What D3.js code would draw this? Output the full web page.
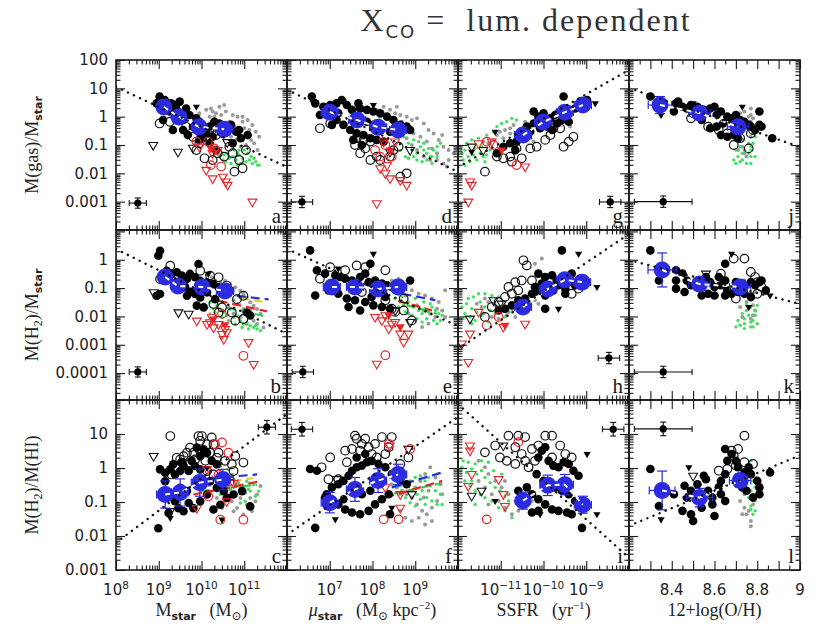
<!DOCTYPE html>
<html><head><meta charset="utf-8">
<script src="https://cdn.jsdelivr.net/npm/d3@7/dist/d3.min.js"></script>
<style>body{margin:0;background:#fff}svg{display:block}</style>
</head><body>
<svg id="chart" width="837" height="631"></svg>
<script>
// ---------------- layout grid: panel ids by row/column ----------------
const panelGrid = [['a','d','g','j'],['b','e','h','k'],['c','f','i','l']];
// axis domains (log10 for log axes; column 3 is linear 12+log(O/H))
const xDomainsLog = [[8,12],[6,10],[-12,-8],null];
const xDomainLin = [8.2,9.0];
const yDomainsLog = [[-4,2],[-4.95,1.05],[-3,2]];
// tick labels
const xTickExps = [[8,9,10,11],[7,8,9],[-11,-10,-9]];
const xTickLin = [8.4,8.6,8.8,9];
const yTickLabels = [["100","10","1","0.1","0.01","0.001"],["1","0.1","0.01","0.001","0.0001"],["10","1","0.1","0.01","0.001"]];

// ---------------- data (log10 units except O/H) ----------------
const blackFilled = {
a:[[9.02,0.71],[9.14,0.59],[9.29,0.47],[9.37,0.41],[9.49,0.53],[9.64,0.29],[9.26,0.18],[9.45,0.0],[9.57,-0.12],[9.72,0.06],[9.88,-0.06],[9.95,-0.18],[9.80,-0.35],[9.95,-0.53],[10.11,-0.59],[10.19,-0.35],[10.30,-0.18],[10.42,-0.24],[10.57,-0.35],[10.69,-0.29],[10.81,-0.53],[10.92,-0.76],[11.08,-0.65],[10.73,-0.94],[10.19,-0.94],[10.34,-1.18],[10.03,-0.76],[9.10,-0.12],[9.33,-0.47],[9.57,-0.47],[9.68,-0.65],[9.95,-0.82],[10.88,-0.47],[9.41,0.29],[8.95,0.47],[10.26,-0.71]],
d:[[6.58,0.71],[6.66,0.47],[6.85,0.35],[7.01,0.41],[7.16,0.47],[7.28,0.59],[7.40,0.41],[7.52,0.24],[7.67,0.47],[7.71,0.29],[7.87,0.24],[8.02,0.18],[8.18,0.12],[8.34,0.0],[8.49,-0.12],[8.65,-0.29],[8.80,-0.35],[8.88,-0.47],[7.16,-0.12],[7.32,-0.29],[7.48,-0.47],[7.63,-0.59],[7.79,-0.65],[7.95,-0.76],[8.10,-0.82],[8.26,-0.88],[7.55,-0.82],[7.75,-1.0],[7.20,0.12],[6.77,0.06],[7.05,-0.29],[8.41,-0.53],[8.57,-0.59],[7.87,-0.18],[8.02,-0.29]],
g:[[-9.53,0.71],[-10.23,0.18],[-10.12,0.0],[-10.0,0.12],[-9.84,-0.06],[-9.73,0.06],[-9.69,-0.24],[-9.57,-0.12],[-9.49,0.0],[-9.38,0.24],[-9.26,0.29],[-9.14,0.35],[-9.06,0.47],[-8.98,0.59],[-10.23,-0.24],[-10.08,-0.41],[-9.92,-0.35],[-9.80,-0.47],[-10.31,-0.53],[-10.43,-0.71],[-10.63,-0.88],[-10.78,-0.94],[-10.94,-1.06],[-10.66,-1.18],[-11.09,-1.29],[-10.39,-0.35],[-9.41,-0.18]],
j:[[8.30,0.71],[8.42,0.47],[8.43,0.53],[8.45,0.35],[8.41,0.18],[8.47,0.29],[8.49,0.41],[8.52,0.35],[8.55,0.24],[8.56,0.18],[8.58,0.29],[8.60,0.35],[8.61,0.06],[8.63,0.18],[8.66,0.0],[8.68,-0.06],[8.70,0.06],[8.72,-0.12],[8.74,-0.18],[8.76,-0.29],[8.77,-0.35],[8.79,-0.47],[8.81,-0.29],[8.82,-0.35],[8.81,0.18],[8.63,-0.65],[8.66,-0.71],[8.69,-0.65],[8.71,-0.76],[8.58,-0.41],[8.61,-0.35],[8.54,-0.12],[8.64,-0.24],[8.87,-0.76]],
b:[[9.03,0.32],[8.99,0.14],[9.93,-0.15],[9.19,-0.39],[9.30,-0.50],[9.42,-0.44],[9.54,-0.56],[9.66,-0.68],[9.73,-0.50],[9.85,-0.62],[9.97,-0.74],[10.13,-0.80],[10.28,-0.86],[10.40,-0.97],[10.52,-1.03],[10.67,-1.09],[9.50,-0.80],[9.62,-0.97],[9.73,-1.09],[9.85,-1.21],[9.97,-1.33],[10.13,-1.15],[9.03,-1.21],[8.95,-1.27],[9.89,-1.62],[10.05,-1.68],[9.66,-1.27],[10.32,-1.39],[11.06,-1.86],[11.14,-1.97]],
e:[[6.54,0.33],[7.95,-0.14],[6.70,-0.37],[6.89,-0.49],[7.13,-0.55],[7.24,-0.61],[7.36,-0.67],[7.52,-0.73],[7.71,-0.61],[7.83,-0.49],[7.91,-0.79],[8.06,-0.73],[8.22,-0.84],[8.34,-0.90],[8.45,-0.96],[8.65,-0.84],[8.88,-0.73],[6.66,-1.26],[6.97,-1.08],[7.20,-1.20],[7.40,-1.37],[7.59,-1.43],[7.83,-1.49],[8.02,-1.61],[8.22,-1.67],[8.41,-1.73],[7.44,-1.67],[7.71,-1.79],[7.98,-1.31],[8.30,-1.31]],
h:[[-9.57,0.33],[-10.12,-0.49],[-9.96,-0.61],[-9.80,-0.55],[-9.69,-0.73],[-9.57,-0.79],[-9.45,-0.61],[-9.34,-0.49],[-10.04,-0.84],[-9.88,-0.96],[-9.77,-1.08],[-9.65,-0.90],[-9.49,-1.02],[-10.12,-1.14],[-9.96,-1.26],[-10.27,-1.20],[-10.43,-1.37],[-10.59,-1.43],[-10.74,-1.61],[-10.90,-1.73],[-11.05,-1.79],[-9.96,-1.73],[-9.49,-1.20],[-9.26,-0.90],[-10.20,-0.96]],
k:[[8.30,0.33],[8.34,-0.73],[8.42,-0.37],[8.45,-0.49],[8.42,-0.73],[8.42,-1.02],[8.46,-1.14],[8.47,-0.73],[8.49,-0.90],[8.56,-0.61],[8.58,-0.79],[8.60,-0.96],[8.63,-0.90],[8.65,-0.73],[8.66,-1.08],[8.68,-1.20],[8.65,-1.26],[8.60,-1.26],[8.57,-1.20],[8.54,-1.26],[8.62,-0.61],[8.70,-0.79],[8.73,-0.84],[8.74,-1.20],[8.77,-0.79],[8.79,-0.90],[8.81,-0.79],[8.82,-0.73],[8.77,-1.31],[8.84,-1.08],[8.65,-0.14],[8.71,-1.14],[8.54,-0.96]],
c:[[9.03,-0.04],[9.15,-0.14],[9.27,-0.04],[9.38,-0.19],[9.50,-0.09],[9.58,0.06],[9.70,-0.09],[9.85,0.06],[9.97,-0.04],[9.89,0.60],[10.05,0.55],[10.13,0.45],[10.24,0.21],[10.36,0.11],[9.97,0.35],[9.77,0.21],[9.54,0.16],[9.34,0.11],[9.15,-0.39],[9.27,-0.78],[9.38,-0.98],[9.46,-1.18],[9.58,-1.27],[9.70,-1.03],[9.81,-1.18],[9.97,-0.98],[10.13,-0.78],[10.28,-1.22],[10.44,-1.08],[10.59,-0.88],[10.75,-0.78],[10.95,-0.68],[11.14,-1.13],[8.99,-1.77],[9.23,-1.32],[9.50,-0.58],[9.66,-0.68],[10.20,-0.39],[10.36,-0.58],[10.52,-0.68]],
f:[[6.54,-0.03],[6.70,-0.08],[6.93,-0.77],[7.05,-0.57],[7.20,-0.48],[7.32,-0.38],[7.44,-0.23],[7.52,-0.08],[7.63,0.02],[7.75,0.07],[7.87,0.17],[7.98,0.21],[8.14,0.12],[8.30,0.02],[8.45,-0.18],[8.65,-0.38],[8.80,-0.48],[7.20,-1.07],[7.36,-1.22],[7.52,-1.31],[7.71,-1.36],[7.91,-1.26],[8.06,-1.07],[8.22,-0.92],[8.38,-0.77],[7.75,-0.77],[7.95,-0.67],[7.32,-0.92],[8.41,-1.36],[6.66,-1.76],[6.89,-0.87],[7.63,0.31],[7.83,0.41]],
i:[[-10.04,0.51],[-9.96,0.61],[-10.12,0.31],[-9.88,0.21],[-9.77,0.07],[-9.65,0.02],[-9.53,0.17],[-9.41,0.12],[-9.30,-0.08],[-9.18,-0.23],[-10.16,-0.18],[-10.0,-0.38],[-9.84,-0.48],[-9.73,-0.57],[-9.57,-0.67],[-9.41,-0.77],[-9.26,-0.97],[-9.10,-1.12],[-10.27,-0.77],[-10.12,-0.92],[-9.96,-1.07],[-9.80,-1.22],[-9.65,-1.26],[-9.45,-1.31],[-9.34,-1.36],[-10.27,-1.31],[-10.12,-1.26],[-9.10,-1.76],[-10.59,-0.67],[-10.39,-0.57]],
l:[[8.30,-0.03],[8.41,-0.77],[8.34,-1.12],[8.46,-0.52],[8.49,-0.67],[8.47,-0.87],[8.45,-1.26],[8.49,-1.36],[8.50,-1.56],[8.52,-0.48],[8.55,-0.23],[8.56,-0.33],[8.57,-0.67],[8.59,-0.87],[8.59,-1.07],[8.62,-0.57],[8.63,-0.77],[8.65,-0.97],[8.63,-0.38],[8.65,-0.18],[8.66,0.21],[8.65,0.56],[8.68,0.41],[8.70,0.21],[8.71,0.02],[8.74,-0.13],[8.76,0.02],[8.77,-0.18],[8.80,-0.38],[8.81,-0.57],[8.81,-0.77],[8.78,-0.87],[8.75,-0.67],[8.73,-0.57],[8.86,-0.13],[8.60,-1.41],[8.54,-1.17]]
};
const blackOpen = {
a:[[9.02,-0.24],[9.26,-0.18],[9.64,-0.35],[9.80,-0.71],[9.95,-0.94],[10.07,-1.47],[10.26,-1.53],[10.38,-1.29],[10.65,-1.06],[10.73,-1.29],[10.88,-1.53],[10.77,-1.94],[10.96,-1.82],[11.04,-1.18],[10.53,-1.41],[10.19,-0.47],[9.88,-1.18],[10.50,-0.59],[10.34,-0.65]],
d:[[6.77,-0.41],[7.01,-0.24],[7.59,-1.0],[7.71,-1.29],[7.83,-1.12],[7.95,-1.53],[8.10,-1.41],[8.18,-1.53],[8.41,-1.41],[8.49,-1.18],[8.61,-1.06],[8.80,-2.0],[8.65,-2.12],[7.95,-0.88],[7.79,-0.82],[7.63,-0.76]],
g:[[-11.37,-1.94],[-11.09,-1.41],[-10.74,-1.59],[-10.51,-1.47],[-10.63,-1.12],[-10.31,-1.12],[-10.16,-1.06],[-9.96,-0.82],[-9.84,-0.65],[-9.53,-1.06],[-9.41,-0.88],[-9.30,-0.71],[-9.77,-0.41],[-9.61,-0.41],[-10.78,-1.41],[-10.94,-1.47]],
j:[[8.49,-0.06],[8.57,-0.35],[8.62,-0.47],[8.66,-0.59],[8.69,-1.0],[8.76,-1.12],[8.72,-0.76],[8.78,-0.47],[8.50,0.12],[8.77,-0.59]],
b:[[9.27,-0.21],[9.03,-0.68],[9.97,-0.39],[10.20,-0.56],[10.40,-0.62],[10.59,-0.91],[10.28,-1.56],[10.48,-1.68],[10.71,-1.86],[10.79,-2.15],[10.98,-2.09],[10.83,-1.39],[10.98,-1.27],[10.40,-1.86]],
e:[[7.01,-0.26],[6.77,-0.67],[7.36,-0.37],[7.63,-0.20],[7.83,-0.26],[8.30,-0.37],[8.14,-1.08],[8.30,-1.43],[8.45,-1.73],[8.73,-1.79],[8.92,-2.14],[8.73,-1.37],[8.53,-1.84],[7.75,-1.14]],
h:[[-10.47,-0.02],[-10.39,-0.20],[-10.66,-0.79],[-10.82,-0.96],[-10.74,-1.20],[-10.59,-1.08],[-10.90,-1.31],[-11.05,-1.49],[-11.21,-1.67],[-11.37,-2.02],[-10.51,-0.73],[-10.27,-0.73],[-9.34,-1.20],[-9.18,-1.02]],
k:[[8.69,0.04],[8.74,0.04],[8.79,-0.61],[8.80,-0.79],[8.70,-1.37],[8.63,-0.49],[8.77,-0.43],[8.82,-0.96],[8.80,-1.20]],
c:[[9.27,0.94],[9.58,0.35],[9.50,0.25],[9.70,0.16],[9.93,0.94],[10.01,0.94],[9.97,0.80],[10.24,0.90],[10.13,0.70],[10.28,0.70],[10.40,0.45],[9.97,0.50],[10.20,0.45],[9.73,0.60],[9.81,0.45],[9.66,0.45],[9.42,0.30],[9.54,0.16],[9.70,0.11],[9.85,0.25],[10.09,0.21],[10.36,0.30],[10.55,0.21],[10.71,0.11],[10.79,0.35],[10.98,0.16],[10.75,-0.09],[10.13,-0.09],[10.28,-0.19],[9.30,-0.19]],
f:[[6.81,0.02],[7.01,0.31],[7.40,0.17],[7.36,0.51],[7.59,0.95],[7.63,0.86],[7.75,0.71],[7.52,0.56],[7.91,0.61],[7.98,0.41],[8.06,0.71],[8.22,0.91],[8.45,0.91],[7.83,0.86],[8.38,0.61],[8.30,0.41],[6.97,-0.33],[7.20,-0.33],[8.65,0.12],[8.84,0.31],[7.71,0.51],[8.10,0.31]],
i:[[-11.37,0.46],[-11.13,0.66],[-10.82,0.95],[-10.59,0.95],[-10.43,0.91],[-9.96,0.95],[-9.80,0.95],[-10.66,0.61],[-10.51,0.41],[-10.27,0.56],[-10.43,0.21],[-10.66,0.12],[-10.86,0.21],[-11.02,0.31],[-10.12,0.66],[-9.80,0.31],[-9.49,0.41],[-9.34,0.31],[-9.61,0.66],[-10.20,0.21],[-10.35,0.02]],
l:[[8.74,0.95],[8.68,0.51],[8.71,0.56],[8.69,0.36],[8.74,0.17],[8.78,0.12],[8.62,-0.08],[8.66,-0.03],[8.70,0.07]]
};
const blackTriOpen = {
a:[[8.87,-1.0],[9.45,-1.24],[9.80,-1.10],[10.6,-0.9]], d:[[8.41,-1.24],[8.88,-1.18]],
g:[[-11.41,-1.18],[-11.68,-1.06]], j:[],
b:[[8.88,-1.15],[9.46,-1.86],[9.70,-1.91]], e:[[8.88,-2.20],[8.53,-1.79]],
h:[[-11.17,-1.43],[-11.72,-2.08],[-10.98,-1.55]], k:[[8.56,-0.49]],
c:[[8.88,0.35],[9.27,-1.27]], f:[[7.16,-0.33],[8.92,-0.77],[8.84,0.56]],
i:[[-10.94,0.66],[-11.68,-0.82],[-11.45,-0.67]], l:[[8.50,-0.23]]
};
const blackTriFilled = {
a:[[9.88,0.35],[10.5,-0.55]], d:[[8.02,0.41],[7.32,0.53]],
g:[[-8.79,0.47],[-11.13,-0.53],[-11.68,-1.24]], j:[[8.50,0.47],[8.73,0.35],[8.35,0.06]],
b:[[10.16,-0.50]], e:[[8.02,0.21],[7.20,-0.31]],
h:[[-9.18,0.21],[-8.75,-0.96],[-9.65,-1.73]], k:[[8.68,0.21],[8.76,-1.67],[8.86,-1.26]],
c:[[9.27,-1.47],[10.48,-1.52],[10.13,0.0]], f:[[7.13,-1.51],[8.45,-1.17]],
i:[[-8.98,0.41],[-8.75,-1.36],[-11.13,-0.97],[-10.08,-1.36]], l:[[8.48,0.02],[8.35,-1.51]]
};
const grayDots = {
a:[[10.11,0.24],[10.22,0.29],[10.34,0.12],[10.46,0.06],[10.57,0.18],[10.73,0.06],[10.84,0.0],[10.96,-0.18],[11.08,-0.12],[11.19,-0.29],[11.27,-0.53],[11.35,-0.71],[11.16,-0.82],[11.04,-1.0],[10.92,-1.06],[10.81,-0.82],[10.69,-0.71],[10.61,-0.59],[10.50,-0.35],[10.38,-0.41],[10.30,0.0],[10.19,0.0],[10.65,-0.18],[10.77,-0.35],[10.88,-0.59],[11.0,-0.41],[11.12,-0.47],[11.23,-0.94],[11.31,-1.18],[10.84,-1.29],[10.42,0.35],[10.53,0.41],[10.26,0.18],[10.96,0.0],[9.95,0.12]],
d:[[7.87,0.29],[8.10,0.24],[8.26,0.35],[8.41,0.24],[8.53,0.12],[8.65,0.06],[8.80,0.0],[8.92,-0.12],[9.04,-0.06],[9.20,-0.24],[9.31,-0.47],[9.43,-0.59],[9.55,-0.82],[9.66,-1.06],[9.78,-1.18],[9.90,-1.29],[8.96,-0.59],[9.12,-0.71],[9.27,-0.88],[9.39,-1.12],[9.51,-1.29],[8.80,-0.76],[8.92,-1.0],[9.04,-1.18],[9.20,-1.41],[9.35,-1.53],[9.51,-1.53],[9.66,-1.65],[9.74,-1.76],[8.57,0.35],[8.18,0.0],[8.49,-0.35],[8.69,-0.18],[9.63,-0.65],[9.78,-1.53]],
g:[[-11.02,-0.53],[-10.90,-0.47],[-10.78,-0.41],[-10.66,-0.59],[-10.59,-0.71],[-11.17,-0.82],[-11.29,-0.94],[-11.41,-0.88],[-10.43,-0.18],[-10.51,-0.47],[-10.94,-0.76],[-10.78,-0.59],[-11.09,-0.65],[-10.70,-0.29],[-9.38,-0.35],[-9.61,-0.29],[-10.31,-0.76],[-10.23,-0.88]],
j:[[8.72,0.12],[8.74,0.18],[8.76,0.0],[8.77,0.29],[8.77,-0.18],[8.78,-0.06],[8.75,-0.29],[8.73,-0.47],[8.73,-0.82],[8.73,-1.06],[8.74,-1.29],[8.75,-1.41],[8.71,-1.18],[8.77,-0.71],[8.77,0.06]],
b:[[10.13,-0.50],[10.24,-0.62],[10.32,-0.74],[10.44,-0.80],[10.55,-0.74],[10.67,-0.86],[10.79,-0.97],[10.91,-1.09],[10.98,-1.21],[11.06,-1.33],[11.14,-1.50],[11.22,-1.62],[11.30,-1.74],[11.38,-1.91],[11.22,-2.15],[11.06,-2.27],[10.91,-2.03],[10.75,-1.91],[10.63,-1.68],[10.75,-1.44],[10.87,-1.56],[10.98,-1.74],[11.14,-1.80],[11.30,-2.27],[11.45,-2.39],[10.48,-1.27],[10.59,-1.21]],
e:[[8.30,-0.84],[8.45,-0.73],[8.61,-0.67],[8.77,-0.90],[8.92,-1.08],[9.08,-1.20],[9.23,-1.26],[9.39,-1.37],[9.55,-1.49],[9.70,-1.08],[9.63,-1.79],[9.47,-2.02],[9.31,-2.26],[9.16,-2.37],[9.0,-2.14],[8.84,-1.90],[9.04,-1.61],[9.20,-1.79],[9.35,-1.90],[9.51,-1.73],[9.70,-2.02],[8.61,-1.20],[8.77,-1.26]],
h:[[-11.45,-1.67],[-11.29,-1.49],[-11.13,-1.61],[-10.98,-1.73],[-10.82,-1.84],[-10.66,-1.67],[-10.51,-1.73],[-10.43,-1.55],[-10.31,-1.49],[-10.20,-1.43],[-10.12,-1.55],[-11.56,-1.55],[-11.41,-1.90],[-11.21,-2.02],[-11.05,-2.08],[-10.86,-1.96],[-10.66,-2.02],[-11.37,-1.37],[-10.20,-0.14],[-10.04,0.04]],
k:[[8.74,-0.73],[8.76,-0.96],[8.77,-1.20],[8.78,-1.37],[8.78,-1.61],[8.79,-1.79],[8.78,-1.96],[8.77,-2.08],[8.73,-2.02],[8.72,-1.67],[8.75,-1.49],[8.79,-1.14]],
c:[[10.20,-0.49],[10.32,-0.58],[10.44,-0.44],[10.55,-0.53],[10.67,-0.63],[10.79,-0.49],[10.91,-0.58],[11.02,-0.73],[11.14,-0.88],[11.26,-0.98],[10.59,-0.78],[10.71,-0.98],[10.83,-1.18],[10.91,-0.88],[11.06,-1.08],[11.18,-1.27],[11.30,-0.78],[10.36,-0.88],[10.48,-1.18],[10.75,-1.27],[10.98,-1.37],[10.63,-0.04],[10.44,0.06],[11.38,-0.53]],
f:[[8.30,-0.38],[8.45,-0.48],[8.57,-0.57],[8.69,-0.67],[8.80,-0.77],[8.92,-0.87],[9.04,-1.07],[9.16,-1.26],[9.27,-1.36],[9.39,-1.17],[9.51,-0.97],[9.63,-0.77],[9.0,-0.57],[9.12,-0.38],[9.23,-0.18],[9.35,0.02],[9.47,-0.28],[9.59,-0.48],[8.65,-1.26],[8.77,-1.46],[8.92,-1.56],[9.08,-1.46],[9.23,-1.66],[9.39,-1.56],[9.20,-0.87],[9.31,-0.67]],
i:[[-11.52,-0.38],[-11.37,-0.57],[-11.21,-0.77],[-11.05,-0.97],[-10.90,-1.17],[-10.74,-1.36],[-10.59,-1.26],[-10.66,-0.97],[-10.82,-0.77],[-10.98,-0.57],[-11.13,-0.38],[-11.29,-0.18],[-11.37,0.02],[-10.43,-1.07],[-10.27,-0.97],[-11.29,-1.07],[-11.52,0.21],[-10.90,-0.38]],
l:[[8.72,-0.97],[8.74,-1.17],[8.75,-1.36],[8.77,-1.56],[8.77,-1.71],[8.76,-1.26],[8.74,-0.77],[8.78,-1.07],[8.79,-0.28],[8.77,-0.08],[8.71,0.21],[8.73,-1.36]]
};
const greenDots = {
a:[[10.42,-1.41],[10.53,-1.35],[10.65,-1.47],[10.73,-1.41],[10.81,-1.53],[10.88,-1.35],[10.96,-1.47],[11.04,-1.59],[11.12,-1.53],[11.19,-1.65],[11.27,-1.59],[11.35,-1.71],[11.16,-1.41],[11.08,-1.29],[10.92,-1.65],[10.84,-1.71],[10.69,-1.65],[10.57,-1.59],[10.50,-1.53],[11.23,-1.47],[11.31,-1.71],[11.0,-1.18],[10.77,-1.18],[10.61,-1.29],[10.88,-1.18]],
d:[[8.73,-0.71],[8.84,-0.94],[8.92,-1.18],[8.96,-1.41],[9.04,-1.29],[9.12,-1.06],[9.20,-1.18],[9.27,-1.29],[9.35,-1.41],[9.43,-1.18],[9.51,-1.06],[9.04,-1.53],[9.16,-1.59],[9.27,-1.53],[9.39,-1.65],[8.80,-0.47],[8.88,-0.35],[8.96,-0.82],[9.08,-0.88],[9.51,-1.41],[9.59,-0.94],[8.65,-1.18],[8.77,-1.41],[8.84,-1.47],[9.20,-0.94],[9.31,-1.12],[9.39,-1.41]],
g:[[-11.91,-1.29],[-11.84,-1.18],[-11.76,-1.41],[-11.64,-1.35],[-11.56,-1.53],[-11.48,-1.29],[-11.41,-1.41],[-11.33,-1.35],[-11.88,-1.53],[-11.72,-1.59],[-11.60,-1.12],[-11.45,-1.06],[-11.25,-1.18],[-11.80,-0.94],[-11.68,-0.82],[-11.52,-0.76],[-11.33,-0.65],[-11.17,-0.53],[-11.09,-0.35],[-10.98,-0.24],[-10.86,-0.18],[-10.74,-0.06],[-10.63,-0.12],[-11.25,-0.94],[-11.84,-1.71],[-11.37,-1.59]],
j:[[8.70,-1.18],[8.71,-1.41],[8.72,-1.59],[8.73,-1.53],[8.75,-1.65],[8.77,-1.41],[8.77,-1.18],[8.78,-0.94],[8.79,-0.71],[8.76,-0.94],[8.74,-1.18],[8.73,-1.29],[8.70,-1.65],[8.77,-1.65],[8.79,-1.41],[8.76,-1.29],[8.78,-0.59],[8.72,-1.06],[8.69,-1.53],[8.77,-1.06]],
b:[[10.05,-1.56],[10.13,-1.68],[10.20,-1.50],[10.28,-1.74],[10.36,-1.62],[10.44,-1.80],[10.52,-1.86],[10.59,-1.97],[10.67,-1.74],[10.75,-2.03],[10.83,-1.97],[10.91,-2.15],[10.98,-2.27],[11.06,-2.21],[11.14,-2.33],[11.22,-2.39],[11.30,-2.44],[11.38,-2.50],[10.32,-1.86],[10.48,-2.03],[10.63,-2.15],[10.79,-2.27],[10.95,-2.39],[11.10,-2.44],[11.26,-2.33],[10.20,-1.91]],
e:[[8.53,-1.37],[8.65,-1.49],[8.73,-1.61],[8.84,-1.49],[8.96,-1.67],[9.08,-1.79],[9.16,-1.90],[9.23,-1.73],[9.31,-1.84],[9.39,-1.67],[9.47,-1.79],[9.55,-1.90],[9.63,-1.96],[8.61,-1.67],[8.77,-1.84],[8.92,-1.96],[9.04,-2.08],[9.16,-2.20],[9.27,-2.08],[9.43,-2.14],[9.51,-2.26],[9.59,-2.14],[8.69,-1.31],[9.0,-1.37],[9.20,-1.49],[9.35,-1.55]],
h:[[-11.91,-1.67],[-11.80,-1.55],[-11.68,-1.73],[-11.56,-1.84],[-11.45,-1.96],[-11.84,-1.90],[-11.72,-2.02],[-11.60,-2.14],[-11.48,-1.49],[-11.37,-1.67],[-11.25,-1.79],[-11.13,-1.90],[-11.02,-1.84],[-10.90,-2.02],[-11.76,-1.37],[-11.64,-1.31],[-11.52,-1.20],[-11.37,-1.20],[-11.21,-1.26],[-11.05,-1.31],[-11.88,-2.08],[-11.68,-2.26],[-11.29,-2.20],[-10.74,-1.84],[-10.59,-1.55]],
k:[[8.70,-2.37],[8.72,-2.31],[8.74,-2.26],[8.77,-2.20],[8.78,-2.14],[8.79,-1.96],[8.79,-1.79],[8.77,-1.67],[8.75,-1.79],[8.73,-1.90],[8.71,-2.14],[8.74,-2.08],[8.76,-1.96],[8.78,-2.37],[8.77,-2.37],[8.74,-2.43],[8.80,-1.61],[8.75,-1.55],[8.77,-1.43],[8.80,-2.26]],
c:[[10.28,-0.34],[10.40,-0.49],[10.52,-0.39],[10.63,-0.29],[10.75,-0.34],[10.87,-0.44],[10.98,-0.53],[11.10,-0.63],[11.22,-0.49],[11.34,-0.68],[10.44,-0.78],[10.55,-0.93],[10.67,-0.83],[10.79,-0.73],[10.91,-1.03],[11.02,-0.98],[11.14,-0.68],[11.26,-0.83],[10.71,-0.19],[10.59,-0.63],[11.06,-0.39],[10.36,-0.68]],
f:[[8.53,-0.38],[8.65,-0.52],[8.77,-0.48],[8.88,-0.38],[9.0,-0.28],[9.12,-0.23],[9.23,-0.38],[9.35,-0.52],[9.47,-0.67],[9.59,-0.77],[8.92,-0.67],[9.04,-0.77],[9.16,-0.67],[9.27,-0.87],[9.39,-0.97],[9.51,-1.07],[9.63,-1.07],[8.77,-0.87],[8.88,-1.02],[9.0,-1.12],[9.12,-0.92],[9.23,-1.07],[8.65,-0.77],[9.31,-0.28],[9.51,-0.18]],
i:[[-11.91,0.02],[-11.80,-0.13],[-11.68,-0.03],[-11.56,-0.18],[-11.45,-0.08],[-11.37,-0.28],[-11.25,-0.43],[-11.13,-0.57],[-11.02,-0.67],[-10.90,-0.82],[-11.84,-0.38],[-11.72,-0.52],[-11.60,-0.67],[-11.48,-0.77],[-11.37,-0.87],[-11.21,-0.97],[-11.05,-1.17],[-10.90,-1.26],[-10.74,-1.46],[-11.88,0.21],[-11.76,0.17],[-11.60,0.12],[-11.45,0.21],[-11.29,0.17],[-11.17,-0.08],[-10.98,-0.18],[-11.60,-1.07],[-11.68,-0.38],[-10.82,-0.97],[-10.59,-0.87]],
l:[[8.76,0.02],[8.77,-0.18],[8.78,-0.38],[8.79,-0.57],[8.78,-0.77],[8.79,-0.97],[8.77,-1.12],[8.77,-1.22],[8.76,-0.87],[8.77,-0.67],[8.75,-0.48],[8.77,0.21],[8.79,-1.26],[8.78,-1.36]]
};
const redOpen = {
a:[[9.88,-0.88],[10.15,-0.88],[10.30,-1.12],[10.22,-1.71],[10.46,-1.76]],
d:[[8.06,-1.18],[8.30,-1.0],[8.45,-1.41],[8.18,-1.41]],
g:[[-11.33,-0.88],[-10.63,-1.71],[-11.17,-1.0]], j:[],
b:[[10.48,-1.91],[10.98,-3.39]], e:[[8.30,-3.37]],
h:[[-11.33,-2.31],[-11.05,-2.02]], k:[],
c:[[10.32,0.70],[10.48,0.75],[10.63,0.45],[10.40,-0.19],[10.16,-0.83],[10.44,-1.52],[10.98,-1.52],[10.67,-0.39],[9.97,-0.53]],
f:[[8.26,-1.51],[8.61,-1.51],[8.38,0.71],[8.88,0.56]],
i:[[-11.33,-1.51],[-10.59,0.76]], l:[]
};
const redTri = {
a:[[10.11,-1.88],[10.26,-2.18],[10.50,-2.12],[10.57,-2.29],[10.61,-2.41],[10.26,-1.29],[10.38,-1.18],[11.19,-3.0],[9.95,-1.06]],
d:[[8.18,-1.82],[8.34,-1.71],[8.30,-2.0],[8.41,-2.18],[8.65,-2.24],[8.80,-2.41],[8.10,-3.06],[8.53,-0.88],[8.26,-0.88]],
g:[[-11.52,-0.94],[-10.43,-1.76],[-11.72,-2.29],[-11.68,-2.41],[-11.76,-3.0],[-11.21,-0.88]], j:[],
b:[[9.89,-2.15],[10.13,-2.27],[10.24,-2.03],[10.28,-2.39],[10.40,-2.27],[10.48,-2.62],[10.55,-2.44],[10.59,-2.56],[10.52,-2.80],[11.10,-2.91],[11.22,-3.68],[10.20,-2.21]],
e:[[8.06,-2.02],[8.22,-2.14],[8.30,-1.96],[8.45,-2.26],[8.38,-2.43],[8.65,-2.61],[8.73,-2.90],[8.84,-2.61],[8.10,-3.67],[8.53,-2.20]],
h:[[-11.72,-2.61],[-11.76,-3.61],[-11.52,-1.84],[-10.43,-2.26],[-10.94,-2.37],[-11.91,-2.96]], k:[],
c:[[9.89,-1.18],[10.13,-0.04],[10.75,-0.44],[10.59,-0.98]],
f:[[8.65,-0.77],[8.65,-1.17],[8.30,-0.57],[8.40,0.66]],
i:[[-11.72,0.66],[-11.72,0.51],[-11.76,-0.53],[-11.68,-0.18],[-10.94,-0.77],[-10.90,-1.12],[-11.05,-0.33]], l:[]
};
const redTriFilled = {
a:[[10.22,-1.12]], d:[[8.41,-1.18]], g:[[-10.98,-1.18]], b:[[10.28,-2.09],[10.55,-2.3]],
e:[[8.38,-1.96],[8.65,-2.37]], h:[[-10.90,-2.31]], c:[], f:[], i:[], j:[], k:[], l:[]
};
// binned means: [x, y, xerr, yerr]
const blueBins = {
a:[[9.12,0.34,0.15,0.15],[9.47,-0.01,0.15,0.15],[9.94,-0.36,0.15,0.15],[10.53,-0.44,0.2,0.15]],
d:[[7.0,0.16,0.2,0.15],[7.64,-0.12,0.2,0.15],[8.13,-0.37,0.2,0.15],[8.6,-0.47,0.2,0.15]],
g:[[-10.48,-0.65,0.2,0.15],[-10.01,-0.19,0.2,0.15],[-9.5,0.16,0.2,0.15],[-9.08,0.41,0.2,0.15]],
j:[[8.345,0.41,0.055,0.3],[8.53,0.13,0.05,0.15],[8.71,-0.36,0.05,0.15]],
b:[[9.15,-0.61,0.15,0.15],[9.45,-0.93,0.15,0.15],[10.01,-0.96,0.15,0.15],[10.55,-1.10,0.2,0.15]],
e:[[7.05,-0.96,0.2,0.15],[7.59,-0.96,0.2,0.15],[8.13,-1.03,0.2,0.15],[8.6,-0.96,0.2,0.2]],
h:[[-10.48,-1.67,0.2,0.15],[-9.9,-1.03,0.2,0.15],[-9.5,-0.71,0.2,0.15],[-9.1,-0.79,0.2,0.2]],
k:[[8.355,-0.36,0.066,0.6],[8.53,-0.86,0.05,0.15],[8.72,-0.96,0.05,0.15]],
c:[[9.15,-0.78,0.2,0.4],[9.5,-0.72,0.2,0.4],[9.96,-0.43,0.2,0.4],[10.5,-0.34,0.25,0.3]],
f:[[7.0,-1.02,0.2,0.3],[7.59,-0.63,0.2,0.35],[8.13,-0.37,0.2,0.35],[8.6,-0.19,0.2,0.3]],
i:[[-10.48,-0.96,0.18,0.25],[-9.9,-0.51,0.18,0.3],[-9.5,-0.49,0.2,0.3],[-9.08,-1.08,0.2,0.25]],
l:[[8.355,-0.66,0.06,0.57],[8.53,-0.87,0.06,0.27],[8.72,-0.37,0.05,0.2]]
};
// dotted reference relations: two end points
const dottedFits = {
a:[[8,1.05],[12,-1.78]], d:[[6,0.95],[10,-1.95]], g:[[-12,-1.78],[-8,1.65]], j:[[8.2,1.01],[9.0,-1.07]],
b:[[8,0.38],[12,-2.62]], e:[[6,0.38],[10,-2.34]], h:[[-12,-3.15],[-8,0.91]], k:[[8.2,-0.01],[9.0,-1.56]],
c:[[8,-2.2],[12,1.59]], f:[[6,-1.96],[10,1.5]], i:[[-12,1.88],[-8,-2.64]], l:[[8.2,-1.7],[9.0,0.37]]
};
// other-sample fits (dashed)
const blueDashFits = {b:[[10.5,-1.22],[11.57,-1.40]], e:[[8.7,-1.2],[9.47,-1.43]], c:[[9.89,-0.34],[11.30,-0.19]], f:[[8.45,-0.57],[9.63,-0.13]]};
const redDashFits = {b:[[10.4,-1.45],[11.53,-1.82]], e:[[8.6,-1.45],[9.39,-1.79]], c:[[9.81,-0.78],[11.30,-0.41]], f:[[8.30,-0.87],[9.63,-0.38]]};
const greenDashFits = {b:[[10.6,-1.70],[11.5,-2.0]], e:[[8.8,-1.6],[9.5,-1.9]], c:[[9.97,-0.68],[11.30,-0.49]], f:[[8.5,-0.75],[9.6,-0.45]]};
const yellowDashFits = {b:[[10.9,-1.35],[11.5,-1.5]], c:[[10.4,-0.45],[11.2,-0.30]], e:[], f:[]};
// typical uncertainties: [x, y, xerr, yerr]
const typicalErr = {
a:[8.51,-3.05,0.2,0.18], d:[6.35,-3.01,0.25,0.2], g:[-8.44,-3.01,0.25,0.2], j:[8.36,-3.0,0.135,0.2],
b:[8.51,-3.96,0.2,0.18], e:[6.37,-3.96,0.25,0.2], h:[-8.47,-3.47,0.25,0.2], k:[8.36,-3.96,0.135,0.2],
c:[11.53,1.2,0.2,0.2], f:[6.35,1.14,0.25,0.2], i:[-8.37,1.14,0.25,0.2], l:[8.36,1.15,0.135,0.2]
};

// ---------------- drawing ----------------
const svg = d3.select('#chart');
const L = 116, T = 60, W = 171, H = 170;
const serif = "'Liberation Serif','DejaVu Serif',serif";
const sans = "'DejaVu Sans','Liberation Sans',sans-serif";
const ink = '#1a1a1a';

function logTicks(lo, hi){
  const maj=[], min=[];
  for(let e=Math.floor(lo); e<=Math.ceil(hi); e++){
    if(e>=lo-1e-9 && e<=hi+1e-9) maj.push(Math.pow(10,e));
    for(let k=2;k<=9;k++){ const v=Math.log10(k)+e; if(v>lo && v<hi) min.push(Math.pow(10,v)); }
  }
  return {maj, min};
}

panelGrid.forEach((row, r) => row.forEach((id, c) => {
  const x0 = L + c*W, y0 = T + r*H;
  const g = svg.append('g').attr('transform', `translate(${x0},${y0})`);
  let xs, xv;
  if (c < 3) { xs = d3.scaleLog().domain(xDomainsLog[c].map(e=>Math.pow(10,e))).range([0,W]); xv = v => xs(Math.pow(10,v)); }
  else { xs = d3.scaleLinear().domain(xDomainLin).range([0,W]); xv = v => xs(v); }
  const ys = d3.scaleLog().domain(yDomainsLog[r].map(e=>Math.pow(10,e))).range([H,0]);
  const yv = v => ys(Math.pow(10,v));

  const clipId = 'clip-' + id;
  g.append('clipPath').attr('id', clipId).append('rect').attr('width', W).attr('height', H);
  const p = g.append('g').attr('clip-path', `url(#${clipId})`);

  // gray and green dots
  p.selectAll('.gr').data(grayDots[id]).join('circle').attr('cx', d=>xv(d[0])).attr('cy', d=>yv(d[1])).attr('r', 2).attr('fill', '#9a9a9a');
  p.selectAll('.gn').data(greenDots[id]).join('circle').attr('cx', d=>xv(d[0])).attr('cy', d=>yv(d[1])).attr('r', 1.7).attr('fill', '#3fe05c');

  // other-sample dashed fits
  const dl = d3.line().x(d=>xv(d[0])).y(d=>yv(d[1]));
  [[yellowDashFits,'#e8d020'],[greenDashFits,'#2fcf4a'],[redDashFits,'#e02424'],[blueDashFits,'#2a2ae0']].forEach(([src,col]) => {
    if (src[id] && src[id].length) p.append('path').attr('d', dl(src[id])).attr('fill','none').attr('stroke', col).attr('stroke-width', 2.2).attr('stroke-dasharray','9,5');
  });

  // black open circles, filled circles
  p.selectAll('.bo').data(blackOpen[id]).join('circle').attr('cx', d=>xv(d[0])).attr('cy', d=>yv(d[1])).attr('r', 4.3).attr('fill', 'none').attr('stroke', '#111').attr('stroke-width', 1.2);
  p.selectAll('.bf').data(blackFilled[id]).join('circle').attr('cx', d=>xv(d[0])).attr('cy', d=>yv(d[1])).attr('r', 4.3).attr('fill', '#000');

  const triOpen = d3.symbol(d3.symbolTriangle, 34);
  const triSmall = d3.symbol(d3.symbolTriangle, 22);
  p.selectAll('.bt').data(blackTriOpen[id]).join('path').attr('d', triOpen).attr('transform', d=>`translate(${xv(d[0])},${yv(d[1])}) rotate(180)`).attr('fill','none').attr('stroke','#111').attr('stroke-width',1.1);
  p.selectAll('.btf').data(blackTriFilled[id]).join('path').attr('d', triSmall).attr('transform', d=>`translate(${xv(d[0])},${yv(d[1])}) rotate(180)`).attr('fill','#000');

  // red sample
  p.selectAll('.ro').data(redOpen[id]).join('circle').attr('cx', d=>xv(d[0])).attr('cy', d=>yv(d[1])).attr('r', 4.3).attr('fill', 'none').attr('stroke', '#e5262b').attr('stroke-width', 1.2);
  p.selectAll('.rt').data(redTri[id]).join('path').attr('d', triOpen).attr('transform', d=>`translate(${xv(d[0])},${yv(d[1])}) rotate(180)`).attr('fill','none').attr('stroke','#e5262b').attr('stroke-width',1.1);
  p.selectAll('.rtf').data(redTriFilled[id]).join('path').attr('d', triOpen).attr('transform', d=>`translate(${xv(d[0])},${yv(d[1])}) rotate(180)`).attr('fill','#e5262b');

  // blue binned means with error bars
  const bx = (v,e) => c<3 ? [xv(v-e), xv(v+e)] : [xs(v-e), xs(v+e)];
  const be = p.append('g').attr('stroke', '#2a2ad8').attr('stroke-width', 1.2);
  blueBins[id].forEach(d => {
    const cx = xv(d[0]), cy = yv(d[1]);
    const [xa, xb] = bx(d[0], d[2]);
    const ya = yv(d[1]-d[3]), yb = yv(d[1]+d[3]);
    be.append('line').attr('x1', xa).attr('x2', xb).attr('y1', cy).attr('y2', cy);
    be.append('line').attr('x1', cx).attr('x2', cx).attr('y1', ya).attr('y2', yb);
    be.append('line').attr('x1', xa).attr('x2', xa).attr('y1', cy-4).attr('y2', cy+4);
    be.append('line').attr('x1', xb).attr('x2', xb).attr('y1', cy-4).attr('y2', cy+4);
    be.append('line').attr('x1', cx-5).attr('x2', cx+5).attr('y1', ya).attr('y2', ya);
    be.append('line').attr('x1', cx-5).attr('x2', cx+5).attr('y1', yb).attr('y2', yb);
  });
  p.selectAll('.bb').data(blueBins[id]).join('circle').attr('cx', d=>xv(d[0])).attr('cy', d=>yv(d[1])).attr('r', 8.5).attr('fill', '#2b2be0');
  p.append('path').attr('d', dl(blueBins[id])).attr('fill','none').attr('stroke','#fff').attr('stroke-width',2).attr('stroke-dasharray','5,4');

  // dotted relation
  p.append('path').attr('d', dl(dottedFits[id])).attr('fill','none').attr('stroke','#111').attr('stroke-width',2.4).attr('stroke-linecap','round').attr('stroke-dasharray','0.1,6.5');

  // typical error symbol
  const te = typicalErr[id];
  const tx = xv(te[0]), ty = yv(te[1]);
  const [txa, txb] = c<3 ? [xv(te[0]-te[2]), xv(te[0]+te[2])] : [xs(te[0]-te[2]), xs(te[0]+te[2])];
  const tya = yv(te[1]-te[3]), tyb = yv(te[1]+te[3]);
  const tg = g.append('g').attr('stroke', '#111').attr('stroke-width', 1.1);
  tg.append('line').attr('x1', txa).attr('x2', txb).attr('y1', ty).attr('y2', ty);
  tg.append('line').attr('x1', tx).attr('x2', tx).attr('y1', tya).attr('y2', tyb);
  tg.append('line').attr('x1', txa).attr('x2', txa).attr('y1', ty-3).attr('y2', ty+3);
  tg.append('line').attr('x1', txb).attr('x2', txb).attr('y1', ty-3).attr('y2', ty+3);
  tg.append('line').attr('x1', tx-3).attr('x2', tx+3).attr('y1', tya).attr('y2', tya);
  tg.append('line').attr('x1', tx-3).attr('x2', tx+3).attr('y1', tyb).attr('y2', tyb);
  g.append('circle').attr('cx', tx).attr('cy', ty).attr('r', 3.6).attr('fill', '#000');

  // ticks on four sides (inward)
  let xMaj, xMin;
  if (c < 3) { const t = logTicks(xDomainsLog[c][0], xDomainsLog[c][1]); xMaj = t.maj; xMin = t.min; }
  else { xMaj = d3.range(8.2, 9.0001, 0.1); xMin = d3.range(8.25, 9.0, 0.1); }
  const yt = logTicks(yDomainsLog[r][0], yDomainsLog[r][1]);
  const tickStyle = sel => { sel.select('.domain').remove(); sel.selectAll('line').attr('stroke', ink).attr('stroke-width', 1.1); sel.selectAll('text').remove(); };
  const mk = (axisFn, scale, vals, len) => axisFn(scale).tickValues(vals).tickSizeInner(-len).tickSizeOuter(0).tickFormat(()=> '');
  g.append('g').call(mk(d3.axisTop, xs, xMaj, 9)).call(tickStyle);
  g.append('g').call(mk(d3.axisTop, xs, xMin, 4.5)).call(tickStyle);
  g.append('g').attr('transform', `translate(0,${H})`).call(mk(d3.axisBottom, xs, xMaj, 9)).call(tickStyle);
  g.append('g').attr('transform', `translate(0,${H})`).call(mk(d3.axisBottom, xs, xMin, 4.5)).call(tickStyle);
  g.append('g').call(mk(d3.axisLeft, ys, yt.maj, 9)).call(tickStyle);
  g.append('g').call(mk(d3.axisLeft, ys, yt.min, 4.5)).call(tickStyle);
  g.append('g').attr('transform', `translate(${W},0)`).call(mk(d3.axisRight, ys, yt.maj, 9)).call(tickStyle);
  g.append('g').attr('transform', `translate(${W},0)`).call(mk(d3.axisRight, ys, yt.min, 4.5)).call(tickStyle);

  // frame
  g.append('rect').attr('width', W).attr('height', H).attr('fill','none').attr('stroke', ink).attr('stroke-width', 1.6);

  // panel letter
  g.append('text').attr('x', W-6).attr('y', H-7).attr('text-anchor','end').attr('font-family', serif).attr('font-size', 21).attr('fill', ink).text(id);

  // y tick labels (left column)
  if (c === 0) {
    const labs = yTickLabels[r];
    g.append('g').selectAll('text').data(labs).join('text')
      .attr('x', -8).attr('y', d => ys(+d)).attr('dy', '0.36em').attr('text-anchor', 'end')
      .attr('font-family', sans).attr('font-size', 15).attr('fill', '#222').text(d => d);
  }
  // x tick labels (bottom row)
  if (r === 2) {
    const lg = g.append('g').attr('transform', `translate(0,${H})`);
    if (c < 3) {
      xTickExps[c].forEach(e => {
        const t = lg.append('text').attr('x', xs(Math.pow(10,e))).attr('y', 25).attr('text-anchor','middle')
          .attr('font-family', sans).attr('font-size', 15).attr('fill', '#222');
        t.append('tspan').text('10');
        t.append('tspan').attr('dy', -6).attr('font-size', 10.5).text(String(e).replace('-', '\u2212'));
      });
    } else {
      xTickLin.forEach(v => {
        lg.append('text').attr('x', xs(v)).attr('y', 25).attr('text-anchor','middle')
          .attr('font-family', sans).attr('font-size', 15).attr('fill', '#222').text(v === 9 ? '9' : v.toFixed(1));
      });
    }
  }
}));

// ---------------- titles ----------------
const title = svg.append('text').attr('x', 526).attr('y', 31).attr('text-anchor','middle')
  .attr('font-family', serif).attr('font-size', 32).attr('fill', '#333').attr('letter-spacing', 2);
title.append('tspan').text('X');
title.append('tspan').attr('dy', 7).attr('font-family', sans).attr('font-size', 18).text('CO');
title.append('tspan').attr('dy', -7).text('\u00a0=\u00a0\u00a0lum.\u00a0dependent');

function yTitle(cy) {
  return svg.append('text').attr('transform', `translate(38,${cy}) rotate(-90)`).attr('text-anchor','middle')
    .attr('font-family', serif).attr('font-size', 18).attr('fill', '#222');
}
{ const t = yTitle(T + H/2);
  t.append('tspan').text('M(gas)/M'); t.append('tspan').attr('dy', 4).attr('font-family', sans).attr('font-size', 11).attr('font-weight','bold').text('star'); }
{ const t = yTitle(T + 1.5*H);
  t.append('tspan').text('M(H'); t.append('tspan').attr('dy', 4).attr('font-size', 12).text('2');
  t.append('tspan').attr('dy', -4).text(')/M'); t.append('tspan').attr('dy', 4).attr('font-family', sans).attr('font-size', 11).attr('font-weight','bold').text('star'); }
{ const t = yTitle(T + 2.5*H);
  t.append('tspan').text('M(H'); t.append('tspan').attr('dy', 4).attr('font-size', 12).text('2');
  t.append('tspan').attr('dy', -4).text(')/M(HI)'); }

// x-axis titles
const xt0 = svg.append('text').attr('x', L + W/2).attr('y', 616).attr('text-anchor','middle').attr('font-family', serif).attr('font-size', 18).attr('fill','#222');
xt0.append('tspan').text('M'); xt0.append('tspan').attr('dy', 4).attr('font-family', sans).attr('font-size', 11).attr('font-weight','bold').text('star');
xt0.append('tspan').attr('dy', -4).text('\u00a0\u00a0\u00a0(M'); xt0.append('tspan').attr('dy', 4).attr('font-size', 12).text('\u2299'); xt0.append('tspan').attr('dy', -4).text(')');

const xt1 = svg.append('text').attr('x', L + 1.5*W).attr('y', 616).attr('text-anchor','middle').attr('font-family', serif).attr('font-size', 18).attr('fill','#222');
xt1.append('tspan').attr('font-style','italic').text('\u03bc'); xt1.append('tspan').attr('dy', 4).attr('font-family', sans).attr('font-size', 11).attr('font-weight','bold').text('star');
xt1.append('tspan').attr('dy', -4).text('\u00a0\u00a0\u00a0(M'); xt1.append('tspan').attr('dy', 4).attr('font-size', 12).text('\u2299');
xt1.append('tspan').attr('dy', -4).text('\u00a0kpc'); xt1.append('tspan').attr('dy', -7).attr('font-size', 11).text('\u22122'); xt1.append('tspan').attr('dy', 7).text(')');

const xt2 = svg.append('text').attr('x', L + 2.5*W).attr('y', 616).attr('text-anchor','middle').attr('font-family', serif).attr('font-size', 18).attr('fill','#222');
xt2.append('tspan').text('SSFR\u00a0\u00a0\u00a0(yr'); xt2.append('tspan').attr('dy', -7).attr('font-size', 11).text('\u22121'); xt2.append('tspan').attr('dy', 7).text(')');

svg.append('text').attr('x', L + 3.5*W).attr('y', 616).attr('text-anchor','middle').attr('font-family', serif).attr('font-size', 18).attr('fill','#222').text('12+log(O/H)');
</script>
</body></html>
